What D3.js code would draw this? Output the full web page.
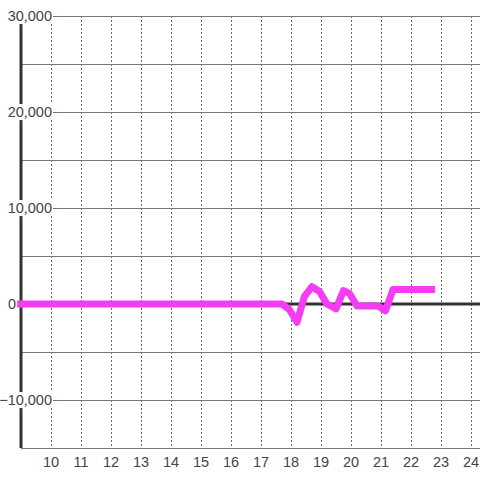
<!DOCTYPE html>
<html>
<head>
<meta charset="utf-8">
<script src="https://cdn.jsdelivr.net/npm/d3@7"></script>
<style>
  body { margin: 0; background: #fff; }
  text { font-family: 'Liberation Sans', Arial, sans-serif; font-size: 14.5px; fill: #444; }
</style>
</head>
<body>
<div id="viz"></div>
<script>
'use strict';

// series
const xs = [8.87, 17.7, 17.95, 18.2, 18.45, 18.7, 18.95, 19.2, 19.5, 19.75, 19.95, 20.2, 20.9, 21.15, 21.4, 22.8];
const ys = [0, 0, -600, -1900, 800, 1800, 1300, 0, -500, 1400, 1100, -200, -200, -700, 1500, 1500];

const xTicks = [10, 11, 12, 13, 14, 15, 16, 17, 18, 19, 20, 21, 22, 23, 24];
const yMajor = [-10000, 0, 10000, 20000, 30000];
const yMinor = [-15000, -5000, 5000, 15000, 25000];

const W = 480, H = 480;
const plot = {left: 21, right: 480, top: 16, bottom: 448};

const svg = d3.select('#viz')
  .append('svg')
    .attr('width', W)
    .attr('height', H);

const x = d3.scaleLinear().domain([9, 24.3]).range([plot.left, plot.right]);
const y = d3.scaleLinear().domain([-15000, 30000]).range([plot.bottom, plot.top]);
const fmt = d3.format(',');

// vertical dotted grid
svg.append('g')
  .selectAll('line')
  .data(xTicks)
  .join('line')
    .attr('x1', d => Math.round(x(d)) + 0.5)
    .attr('x2', d => Math.round(x(d)) + 0.5)
    .attr('y1', plot.top)
    .attr('y2', plot.bottom)
    .attr('stroke', '#666')
    .attr('stroke-dasharray', '2,2');

// horizontal grid
svg.append('g')
  .selectAll('line')
  .data(yMajor.concat(yMinor))
  .join('line')
    .attr('x1', plot.left)
    .attr('x2', plot.right)
    .attr('y1', d => Math.round(y(d)) + 0.5)
    .attr('y2', d => Math.round(y(d)) + 0.5)
    .attr('stroke', '#777');

// left axis line and zero line
svg.append('line')
  .attr('x1', plot.left).attr('x2', plot.left)
  .attr('y1', plot.top).attr('y2', plot.bottom)
  .attr('stroke', '#333')
  .attr('stroke-width', 3);

svg.append('line')
  .attr('x1', plot.left - 1).attr('x2', plot.right)
  .attr('y1', y(0)).attr('y2', y(0))
  .attr('stroke', '#333')
  .attr('stroke-width', 3);

// y labels with a white box behind them
const yl = svg.append('g')
  .selectAll('g')
  .data(yMajor)
  .join('g')
    .attr('transform', d => `translate(${d === 0 ? 16 : 52},${y(d)})`);

yl.append('text')
  .attr('text-anchor', 'end')
  .attr('dy', '0.35em')
  .text(d => fmt(d));

yl.each(function (d) {
  if (d === 0) return;
  const g = d3.select(this);
  const b = g.select('text').node().getBBox();
  g.insert('rect', 'text')
    .attr('x', b.x)
    .attr('y', b.y)
    .attr('width', b.width + 1)
    .attr('height', b.height)
    .attr('fill', '#fff');
});

// x labels
svg.append('g')
  .selectAll('text')
  .data(xTicks)
  .join('text')
    .attr('x', d => x(d))
    .attr('y', 467)
    .attr('text-anchor', 'middle')
    .text(d => d);

// the series
const pts = xs.map((v, i) => [v, ys[i]]);
svg.append('path')
  .datum(pts)
  .attr('fill', 'none')
  .attr('stroke', '#f53cf5')
  .attr('stroke-width', 7)
  .attr('stroke-linejoin', 'round')
  .attr('d', d3.line()
    .x(d => x(d[0]))
    .y(d => y(d[1]))
  );
</script>
</body>
</html>
